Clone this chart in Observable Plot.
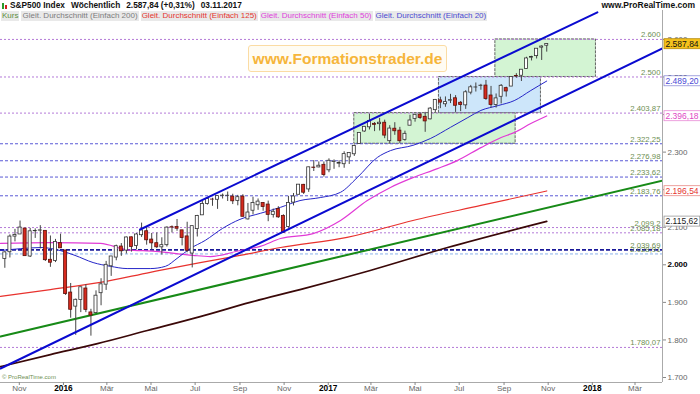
<!DOCTYPE html>
<html><head><meta charset="utf-8">
<script src="https://cdn.jsdelivr.net/npm/d3@7"></script>
<script src="https://cdn.jsdelivr.net/npm/@observablehq/plot@0.6"></script>
<style>
body{margin:0;background:#fff;font-family:"Liberation Sans",Arial,sans-serif;}
#wrap{position:relative;width:700px;height:394px;overflow:hidden;background:#fff;}
#chart{position:absolute;left:0;top:0;}
#hdr{position:absolute;left:0;top:0;width:700px;height:10px;font-size:8.3px;font-weight:bold;line-height:10px;color:#111;white-space:nowrap;}
#hdr .ic{display:inline-block;width:2px;margin-right:1px;vertical-align:-1px;}
#hdr .g{margin-right:6px;}
#site{position:absolute;right:5px;top:0;font-size:8.5px;font-weight:bold;line-height:10px;color:#111;}
#leg{position:absolute;left:1px;top:11px;height:10px;font-size:8px;line-height:10px;white-space:nowrap;}
#leg span{display:inline-block;background:#e9e9e9;padding:0 1px;margin-right:2px;}
#wm{position:absolute;left:248px;top:45px;width:197px;height:25px;border:1px solid #fbdca4;border-radius:3px;background:rgba(255,252,242,0.92);color:#f6b53a;font-weight:bold;font-size:15.5px;line-height:25px;text-align:center;}
#cp{position:absolute;left:2px;top:374px;font-size:6px;color:#6e8f52;}
</style></head><body>
<div id="wrap">
<div id="chart"></div>
<div id="hdr"><span style="margin-left:2px"></span><span class="ic" style="height:6px;background:#2a9a2a"></span><span class="ic" style="height:4px;background:#d02020;margin-right:3px"></span><span class="g">S&amp;P500 Index</span><span class="g">Wöchentlich</span><span class="g">2.587,84 (+0,31%)</span><span>03.11.2017</span></div>
<div id="site">www.ProRealTime.com</div>
<div id="leg"><span style="color:#5d8f3c">Kurs</span><span style="color:#7d7d7d">Gleit. Durchschnitt (Einfach 200)</span><span style="color:#e5352f">Gleit. Durchschnitt (Einfach 125)</span><span style="color:#e03ddc">Gleit. Durchschnitt (Einfach 50)</span><span style="color:#4a4ad2">Gleit. Durchschnitt (Einfach 20)</span></div>
<div id="wm">www.Formationstrader.de</div>
<div id="cp">© ProRealTime.com</div>
</div>
<script>
// ---- weekly candles (S&P 500) ----
const weeks = ["2015-10-12","2015-10-19","2015-10-26","2015-11-02","2015-11-09","2015-11-16","2015-11-23","2015-11-30","2015-12-07","2015-12-14","2015-12-21","2015-12-28",
"2016-01-04","2016-01-11","2016-01-18","2016-01-25","2016-02-01","2016-02-08","2016-02-15","2016-02-22","2016-02-29","2016-03-07","2016-03-14","2016-03-21","2016-03-28","2016-04-04","2016-04-11","2016-04-18","2016-04-25","2016-05-02","2016-05-09","2016-05-16","2016-05-23","2016-05-30","2016-06-06","2016-06-13","2016-06-20","2016-06-27","2016-07-04","2016-07-11","2016-07-18","2016-07-25","2016-08-01","2016-08-08","2016-08-15","2016-08-22","2016-08-29","2016-09-05","2016-09-12","2016-09-19","2016-09-26","2016-10-03","2016-10-10","2016-10-17","2016-10-24","2016-10-31","2016-11-07","2016-11-14","2016-11-21","2016-11-28","2016-12-05","2016-12-12","2016-12-19","2016-12-26",
"2017-01-02","2017-01-09","2017-01-16","2017-01-23","2017-01-30","2017-02-06","2017-02-13","2017-02-20","2017-02-27","2017-03-06","2017-03-13","2017-03-20","2017-03-27","2017-04-03","2017-04-10","2017-04-17","2017-04-24","2017-05-01","2017-05-08","2017-05-15","2017-05-22","2017-05-29","2017-06-05","2017-06-12","2017-06-19","2017-06-26","2017-07-03","2017-07-10","2017-07-17","2017-07-24","2017-07-31","2017-08-07","2017-08-14","2017-08-21","2017-08-28","2017-09-04","2017-09-11","2017-09-18","2017-09-25","2017-10-02","2017-10-09","2017-10-16","2017-10-23","2017-10-30"];
const opens = [2015.65,2033.47,2075.08,2080.76,2096.56,2022.08,2089.41,2090.95,2090.42,2013.37,2010.27,2057.77,
2038.20,1926.12,1888.66,1906.28,1936.94,1873.25,1871.44,1924.44,1947.13,1996.11,2019.27,2048.64,2037.89,2073.19,2050.23,2078.83,2089.37,2067.17,2057.55,2046.53,2052.23,2100.13,2100.83,2091.75,2075.58,2030.01,2095.05,2131.72,2162.04,2173.71,2173.15,2183.76,2183.74,2181.58,2170.19,2181.61,2120.86,2143.99,2158.54,2164.33,2160.39,2132.95,2148.50,2129.78,2100.59,2165.64,2186.43,2212.95,2200.65,2258.83,2259.24,2266.23,
2251.57,2273.59,2269.14,2267.78,2286.01,2294.28,2321.72,2354.91,2366.08,2375.23,2374.42,2378.24,2329.11,2362.34,2357.16,2332.62,2370.33,2388.50,2399.94,2393.98,2387.21,2411.67,2437.83,2427.35,2437.03,2443.32,2431.39,2424.51,2458.35,2472.04,2475.94,2477.14,2450.67,2425.50,2447.32,2470.35,2474.52,2502.51,2503.30,2521.20,2551.39,2555.57,2578.08,2583.21];
const highs = [2034.88,2079.74,2094.32,2116.48,2096.56,2097.06,2095.61,2104.27,2090.42,2076.72,2067.65,2081.56,
2038.20,1950.33,1908.85,1940.24,1947.20,1881.60,1930.68,1962.96,2009.13,2022.37,2052.36,2056.60,2074.02,2074.02,2083.18,2111.05,2099.89,2083.42,2084.87,2071.88,2101.06,2103.48,2120.55,2091.75,2113.32,2102.95,2131.71,2169.05,2175.63,2177.09,2182.87,2188.45,2193.81,2187.94,2184.87,2186.57,2163.30,2179.99,2175.30,2165.86,2169.60,2148.44,2154.79,2133.25,2182.30,2189.89,2213.35,2214.10,2259.80,2277.53,2273.82,2273.82,
2282.10,2279.27,2276.96,2300.99,2298.31,2319.23,2351.31,2368.26,2400.98,2378.80,2390.01,2385.12,2370.42,2378.36,2365.94,2355.90,2398.16,2401.36,2403.87,2405.77,2418.71,2440.23,2446.20,2446.90,2453.82,2450.42,2434.74,2463.54,2477.62,2484.04,2480.38,2490.87,2474.93,2454.77,2480.00,2472.97,2500.23,2508.85,2519.44,2552.51,2555.24,2575.44,2582.98,2588.40];
const lows = [1990.73,2018.19,2061.05,2080.76,2022.35,2019.39,2070.29,2042.35,2008.80,1993.26,2005.93,2043.62,
1918.46,1857.83,1812.29,1872.70,1872.65,1810.10,1871.44,1891.00,1931.81,1969.25,2010.76,2022.49,2028.82,2033.80,2039.74,2072.99,2052.28,2039.45,2043.13,2025.91,2047.26,2084.72,2089.30,2050.37,2032.11,1991.68,2074.02,2131.72,2159.01,2155.79,2147.58,2175.13,2168.50,2160.39,2157.09,2127.81,2119.12,2133.02,2145.04,2142.63,2114.72,2124.43,2123.56,2083.79,2097.62,2156.73,2186.43,2187.44,2192.81,2248.44,2258.41,2233.62,
2245.13,2254.25,2258.41,2257.02,2267.21,2288.54,2321.42,2352.87,2358.96,2354.54,2356.21,2335.74,2322.25,2344.73,2322.25,2328.95,2370.33,2379.75,2387.19,2352.72,2386.01,2405.58,2415.70,2419.36,2429.30,2405.70,2407.70,2413.75,2452.51,2459.93,2464.71,2437.75,2417.35,2417.35,2428.20,2446.55,2474.52,2496.67,2488.03,2520.40,2542.73,2547.92,2544.00,2566.17];
const closes = [2033.11,2075.15,2079.36,2099.20,2023.04,2089.17,2090.11,2091.69,2012.37,2005.55,2060.99,2043.94,
1922.03,1880.33,1906.90,1940.24,1880.05,1864.78,1917.78,1948.05,1999.99,2022.19,2049.58,2035.94,2072.78,2047.60,2080.73,2091.58,2065.30,2057.14,2046.61,2052.32,2099.06,2099.13,2096.07,2071.22,2037.41,2102.95,2129.90,2161.74,2175.03,2173.60,2182.87,2184.05,2183.87,2169.04,2179.98,2127.81,2139.16,2164.69,2168.27,2153.74,2132.98,2141.16,2126.41,2085.18,2164.45,2181.90,2213.35,2191.95,2259.53,2258.07,2263.79,2238.83,
2276.98,2274.64,2271.31,2294.69,2297.42,2316.10,2351.16,2367.34,2383.12,2372.60,2378.25,2343.98,2362.72,2355.54,2328.95,2348.69,2384.20,2399.29,2390.90,2381.73,2415.82,2439.07,2431.77,2433.15,2438.30,2423.41,2425.18,2459.27,2472.54,2472.10,2476.83,2441.32,2425.55,2443.05,2476.55,2461.43,2500.23,2502.22,2519.36,2549.33,2553.17,2575.21,2581.07,2587.84];

// ---- moving averages ----
const ma20Dates = ["2015-10-06","2015-11-03","2015-12-01","2015-12-21","2016-01-17","2016-02-11","2016-03-06","2016-03-29","2016-04-30","2016-05-21","2016-06-06","2016-06-24","2016-07-15","2016-08-08","2016-09-01","2016-09-29","2016-10-27","2016-11-23","2016-12-21","2017-01-18","2017-02-10","2017-03-10","2017-03-28","2017-04-28","2017-05-22","2017-06-19","2017-07-13","2017-07-31","2017-08-24","2017-09-15","2017-10-08","2017-10-30"];
const ma20Values = [2038,2043,2046,2041,2025,2006,1996,1990,1990,1996,2017,2043,2065,2097,2121,2137,2153,2171,2179,2193,2232,2286,2304,2318,2336,2366,2392,2411,2424,2437,2464,2489.20];
const ma50Dates = ["2015-10-06","2015-12-14","2016-02-21","2016-03-29","2016-05-07","2016-06-28","2016-07-22","2016-09-01","2016-09-29","2016-10-27","2016-12-11","2017-01-18","2017-02-24","2017-03-28","2017-04-28","2017-06-01","2017-06-29","2017-07-31","2017-08-28","2017-09-15","2017-10-08","2017-10-30"];
const ma50Values = [2057,2059,2057,2040,2036,2025,2022,2038,2049,2070,2083,2118,2171,2206,2232,2256,2278,2312,2339,2352,2376,2396.18];
const ma125Dates = ["2015-10-06","2015-12-14","2016-02-21","2016-04-30","2016-07-08","2016-09-01","2016-10-27","2017-01-27","2017-04-28","2017-07-31","2017-10-30"];
const ma125Values = [1916,1934,1953,1980,2006,2025,2046,2073,2118,2158,2196.54];
const ma200Dates = ["2015-10-06","2015-12-14","2016-02-17","2016-04-26","2016-07-08","2016-09-15","2016-11-23","2017-02-28","2017-06-15","2017-10-30"];
const ma200Values = [1729,1761,1790,1825,1862,1900,1934,1985,2046,2115.62];

// ---- trend lines (endpoints) ----
const upperChannelDates = ["2016-04-16","2018-01-08"];
const upperChannelValues = [2094,2672];
const lowerChannelDates = ["2015-10-06","2018-04-08"];
const lowerChannelValues = [1724,2576];
const greenLineDates = ["2015-10-06","2018-04-08"];
const greenLineValues = [1809,2224];

// ---- boxes ----
const boxStarts = ["2017-02-06","2017-06-03","2017-08-20"];
const boxEnds = ["2017-09-17","2017-10-22","2018-01-06"];
const boxLows = [2322.25,2403.87,2500];
const boxHighs = [2403.87,2500,2600];

// ---- horizontal levels ----
const levelsViolet = [2600,2500,2403.87,2099.2,2085.18,1780.07];
const levelsBlue = [2322.25,2276.98,2233.62,2183.76];
const levelsDark = [2039.69];
const levelsLight = [2028.91];

// ---- axes ----
const yTicks = [1700,1800,1900,2000,2100,2200,2300,2400,2500,2600];
const yTicksBold = [2000,2500];
const yTicksCovered = [2200,2400];
const xTickDates = ["2015-11-01","2016-01-01","2016-03-01","2016-05-01","2016-07-01","2016-09-01","2016-11-01","2017-01-01","2017-03-01","2017-05-01","2017-07-01","2017-09-01","2017-11-01","2018-01-01","2018-03-01"];
const xTickLabels = ["Nov","2016","Mär","Mai","Jul","Sep","Nov","2017","Mär","Mai","Jul","Sep","Nov","2018","Mär"];
const xYearLabels = ["2016","2017","2018"];

// ---- styles (kept apart from data) ----
const boxFills = ["#d3f4d3","#cde6fa","#d3f4d3"];
const valText = ["#111","#4a4ad6","#e048c4","#e5352f","#222"];
const valBg = ["#f5c21c","#fff","#fff","#fff","#fff"];
const valBorder = ["#b58a0a","#8f8fd8","#e88ad6","#e88a86","#999"];

const P = s => new Date(s + "T00:00:00Z");
const de = d3.formatLocale({decimal: ",", thousands: ".", grouping: [3], currency: ["", "€"]});
const fTick = de.format(",.0f");
const fLevel = de.format(",.2~f");
const fVal = de.format(",.2f");

const DAY = 864e5;
const candles = weeks.map((w, i) => {
  const d = P(w), o = opens[i], c = closes[i];
  return {date: d, x1: new Date(+d - 2.1 * DAY), x2: new Date(+d + 2.1 * DAY),
    h: highs[i], l: lows[i], lo: Math.min(o, c), hi: Math.max(o, c), up: c >= o};
});
const series = (ds, vs) => ds.map((d, i) => ({date: P(d), v: vs[i]}));
const ma20 = series(ma20Dates, ma20Values);
const ma50 = series(ma50Dates, ma50Values);
const ma125 = series(ma125Dates, ma125Values);
const ma200 = series(ma200Dates, ma200Values);
const upper = series(upperChannelDates, upperChannelValues);
const lower = series(lowerChannelDates, lowerChannelValues);
const green = series(greenLineDates, greenLineValues);
const boxes = boxStarts.map((s, i) => ({x1: P(s), x2: P(boxEnds[i]), y1: boxLows[i], y2: boxHighs[i], i}));
const allLevels = [...levelsViolet, ...levelsBlue, ...levelsDark, ...levelsLight];
const valueBoxes = [closes[closes.length - 1], ma20Values[ma20Values.length - 1], ma50Values[ma50Values.length - 1], ma125Values[ma125Values.length - 1], ma200Values[ma200Values.length - 1]];
const valueLabels = valueBoxes.map(fVal);

const xDomain = [P("2015-10-06"), P("2018-04-08")];
const yDomain = [1686.7, 2677];
const xLab = new Map(xTickDates.map((d, i) => [+P(d), xTickLabels[i]]));
const xNormal = xTickDates.filter((d, i) => !xYearLabels.includes(xTickLabels[i])).map(P);
const xBold = xTickDates.filter((d, i) => xYearLabels.includes(xTickLabels[i])).map(P);

const chart = Plot.plot({
  width: 700, height: 394,
  marginLeft: 0, marginRight: 38, marginTop: 10, marginBottom: 12,
  style: {background: "transparent", fontFamily: "Liberation Sans, Arial, sans-serif"},
  x: {type: "utc", domain: xDomain},
  y: {domain: yDomain},
  color: {type: "identity"},
  marks: [
    Plot.rect(boxes, {x1: "x1", x2: "x2", y1: "y1", y2: "y2", fill: d => boxFills[d.i], stroke: "#555", strokeWidth: 0.9, strokeDasharray: "3,1"}),
    Plot.ruleY(levelsViolet, {stroke: "#b47ad8", strokeWidth: 1, strokeDasharray: "2,2"}),
    Plot.ruleY(levelsBlue, {stroke: "#5a5ad6", strokeWidth: 1, strokeDasharray: "3,2"}),
    Plot.ruleY(levelsDark, {stroke: "#1a1a9a", strokeWidth: 1.6, strokeDasharray: "4,2"}),
    Plot.ruleY(levelsLight, {stroke: "#8cb2ea", strokeWidth: 1, strokeDasharray: "3,2"}),
    Plot.text(allLevels, {y: d => d, text: d => fLevel(d), frameAnchor: "right", textAnchor: "end", dx: -2, dy: -4.5, fontSize: 7.8, fill: "#6e8f52"}),
    Plot.line(green, {x: "date", y: "v", stroke: "#178a17", strokeWidth: 2, clip: true}),
    Plot.line(ma200, {x: "date", y: "v", stroke: "#3a0808", strokeWidth: 1.7, curve: "monotone-x", clip: true}),
    Plot.line(ma125, {x: "date", y: "v", stroke: "#e8322e", strokeWidth: 1.2, curve: "monotone-x", clip: true}),
    Plot.line(ma50, {x: "date", y: "v", stroke: "#e23ad6", strokeWidth: 1.2, curve: "monotone-x", clip: true}),
    Plot.line(ma20, {x: "date", y: "v", stroke: "#2626c8", strokeWidth: 1, curve: "monotone-x", clip: true}),
    Plot.ruleX(candles, {x: "date", y1: "l", y2: "h", stroke: "#444", strokeWidth: 1}),
    Plot.rect(candles, {x1: "x1", x2: "x2", y1: "lo", y2: "hi", fill: d => d.up ? "#ffffff" : "#d62a1e", stroke: d => d.up ? "#333" : "#5a100a", strokeWidth: 0.8}),
    Plot.line(upper, {x: "date", y: "v", stroke: "#0a0ad0", strokeWidth: 2, clip: true}),
    Plot.line(lower, {x: "date", y: "v", stroke: "#0a0ad0", strokeWidth: 2, clip: true}),
    Plot.ruleX([xDomain[1]], {stroke: "#aaa"}),
    Plot.ruleY([yDomain[0]], {stroke: "#aaa"}),
    Plot.axisY({anchor: "right", ticks: yTicks.filter(t => !yTicksBold.includes(t)), tickFormat: t => yTicksCovered.includes(t) ? "" : fTick(t), tickSize: 3, tickPadding: 2, fontSize: 8, fill: "#666", stroke: "#888"}),
    Plot.axisY({anchor: "right", ticks: yTicksBold, tickFormat: fTick, tickSize: 3, tickPadding: 2, fontSize: 8, fontWeight: "bold", fill: "#000", stroke: "#888"}),
    Plot.axisX({ticks: xNormal, tickFormat: d => xLab.get(+d), tickSize: 3, tickPadding: 0, fontSize: 8, fill: "#666", stroke: "#888"}),
    Plot.axisX({ticks: xBold, tickFormat: d => xLab.get(+d), tickSize: 3, tickPadding: 0, fontSize: 8.3, fontWeight: "bold", fill: "#000", stroke: "#888"}),
    Plot.text(valueBoxes, {y: d => d, text: d => fVal(d), frameAnchor: "right", textAnchor: "start", dx: 3, fontSize: 8.5, fill: (d, i) => valText[i]})
  ]
});
document.getElementById("chart").append(chart);
d3.select(chart).selectAll("text").each(function () {
  const i = valueLabels.indexOf(this.textContent);
  if (i < 0) return;
  const b = this.getBBox();
  const r = document.createElementNS("http://www.w3.org/2000/svg", "rect");
  r.setAttribute("x", b.x - 1.5);
  r.setAttribute("y", b.y);
  r.setAttribute("width", b.width + 3);
  r.setAttribute("height", b.height);
  r.setAttribute("fill", valBg[i]);
  r.setAttribute("stroke", valBorder[i]);
  r.setAttribute("stroke-width", 0.8);
  const t = this.getAttribute("transform");
  if (t) r.setAttribute("transform", t);
  this.parentNode.insertBefore(r, this);
});
</script>
</body></html>
